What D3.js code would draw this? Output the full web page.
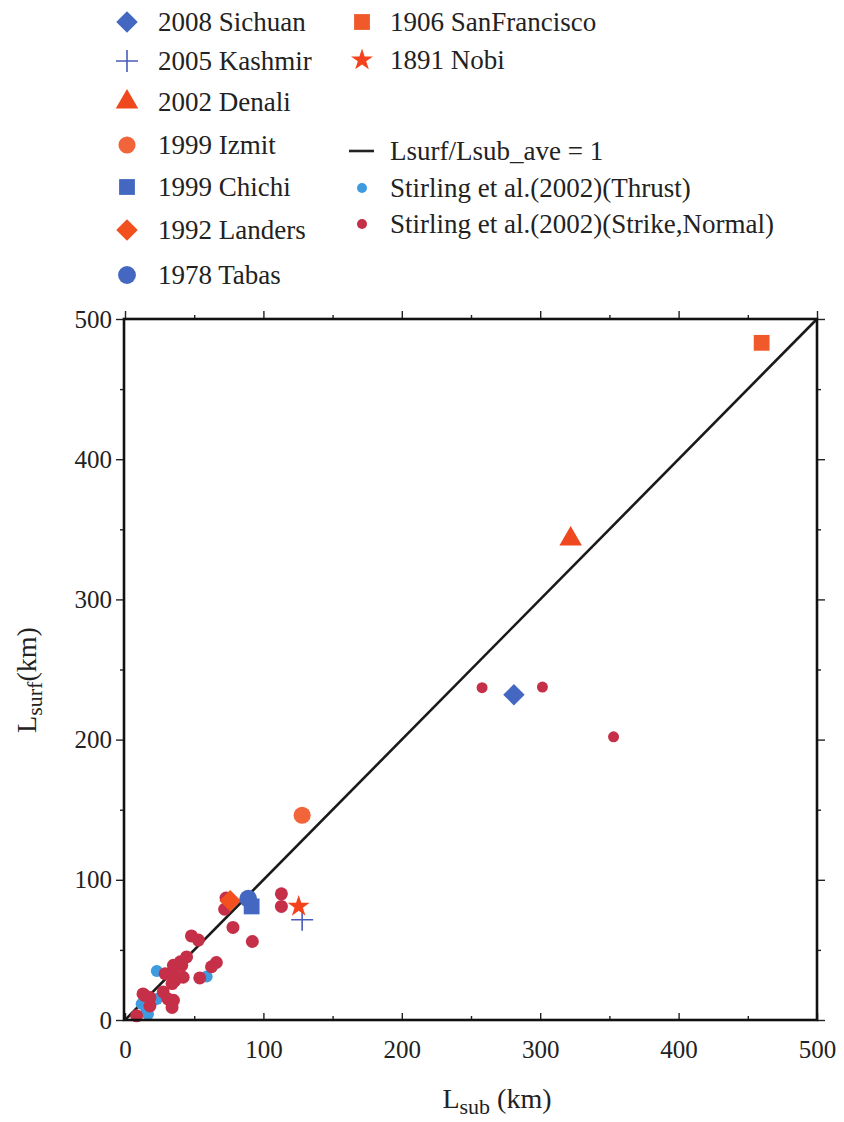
<!DOCTYPE html>
<html>
<head>
<meta charset="utf-8">
<script src="https://cdn.jsdelivr.net/npm/d3@7"></script>
<style>
  body { margin: 0; background: #fff; font-family: "Liberation Serif", serif; }
  svg, svg text, svg tspan { font-family: "Liberation Serif", serif !important; }
</style>
</head>
<body>
<div id="chart"></div>
<script>
// Lsurf vs Lsub scatter

var ticks = [0, 100, 200, 300, 400, 500];
var minorTicks = [50, 150, 250, 350, 450];

// named earthquakes: [Lsub, Lsurf]
var eventNames = ["2008 Sichuan", "2005 Kashmir", "2002 Denali", "1999 Izmit", "1999 Chichi",
                  "1992 Landers", "1978 Tabas", "1906 SanFrancisco", "1891 Nobi"];
var eventLsub  = [281, 128, 322, 128, 91.5, 76, 89, 460, 125.5];
var eventLsurf = [232, 71.5, 343, 146, 81, 85, 86.5, 483, 81];

// Stirling et al. (2002) thrust
var thrustLsub  = [59, 23, 23, 12, 15.6, 16.6];
var thrustLsurf = [31, 35, 15, 11.5, 6.7, 4.3];

// Stirling et al. (2002) strike-slip, normal
var strikeLsub  = [258, 301.6, 353, 113, 113, 78, 92, 72, 73, 48, 53, 44.5, 41, 66, 62.5, 54,
                   29, 34, 36, 42, 35, 40, 34, 13, 18, 14.4, 27.6, 31, 35, 34, 18, 8.4, 37];
var strikeLsurf = [237, 237.5, 202, 90, 81, 66, 56, 79, 87, 60, 57, 45, 39, 41, 38, 30,
                   33, 34, 28, 30.5, 39, 41.5, 26, 18.6, 16, 17.4, 20, 15, 14, 9, 10, 3, 31];

var lineLsub = [0, 500];

var fontSerif = "Liberation Serif";
var colBlue = "#4468c2", colRed = "#f0481e", colOrange = "#f2643a";
var colThrust = "#3f9be0", colStrike = "#c53048";

var W = 844, H = 1122;
var svg = d3.select("#chart").append("svg")
    .attr("width", W).attr("height", H);

var x = d3.scaleLinear().domain([0, 500]).range([125, 817]);
var y = d3.scaleLinear().domain([0, 500]).range([1020, 319]);

// symbol for each event
var eventShapes = [
  {type: d3.symbolSquare, size: 230, rot: 45, fill: colBlue},
  {type: "plus", size: 11, fill: "#4a5cb8"},
  {type: d3.symbolTriangle, size: 220, rot: 0, fill: colRed},
  {type: d3.symbolCircle, size: 230, rot: 0, fill: colOrange},
  {type: d3.symbolSquare, size: 250, rot: 0, fill: colBlue},
  {type: d3.symbolSquare, size: 230, rot: 45, fill: "#f2501e"},
  {type: d3.symbolCircle, size: 250, rot: 0, fill: colBlue},
  {type: d3.symbolSquare, size: 250, rot: 0, fill: "#f05a2a"},
  {type: d3.symbolStar, size: 150, rot: 0, fill: "#f5421e"}
];

function drawShape(g, s, cx, cy) {
  if (s.type === "plus") {
    g.append("path")
      .attr("d", "M" + (cx - s.size) + "," + cy + "H" + (cx + s.size) +
                 "M" + cx + "," + (cy - s.size) + "V" + (cy + s.size))
      .attr("stroke", s.fill).attr("stroke-width", 1.6).attr("fill", "none");
  } else {
    g.append("path")
      .attr("d", d3.symbol().type(s.type).size(s.size)())
      .attr("transform", "translate(" + cx + "," + cy + ") rotate(" + s.rot + ")")
      .attr("fill", s.fill);
  }
}

// ---- plot ----
var plot = svg.append("g");

// 1:1 line
plot.append("path")
  .datum(lineLsub)
  .attr("d", d3.line().x(function(d) { return x(d); }).y(function(d) { return y(d); }))
  .attr("stroke", "#1a1a1a").attr("stroke-width", 2.6).attr("fill", "none");

thrustLsub.forEach(function(v, i) {
  plot.append("circle").attr("cx", x(v)).attr("cy", y(thrustLsurf[i]))
    .attr("r", 6).attr("fill", colThrust);
});
strikeLsub.forEach(function(v, i) {
  plot.append("circle").attr("cx", x(v)).attr("cy", y(strikeLsurf[i]))
    .attr("r", v > 200 ? 5.5 : 6.5).attr("fill", colStrike);
});

eventLsub.forEach(function(v, i) {
  drawShape(plot, eventShapes[i], x(v), y(eventLsurf[i]));
});

// ---- axes / frame ----
function cleanLabels(g) {
  g.select(".domain").remove();
  g.attr("font-family", fontSerif);
  g.selectAll("text").style("font-family", fontSerif).attr("font-size", 25).attr("fill", "#222");
}
var ax = svg.append("g");
ax.append("g").attr("transform", "translate(0,1020)")
  .call(d3.axisBottom(x).tickValues(ticks).tickSize(0).tickPadding(20).tickFormat(d3.format("d")))
  .call(cleanLabels);
ax.append("g").attr("transform", "translate(124,0)")
  .call(d3.axisLeft(y).tickValues(ticks).tickSize(0).tickPadding(12).tickFormat(d3.format("d")))
  .call(cleanLabels);

// tick marks: left/top/right outward, bottom inward
function noDomain(g) { g.select(".domain").remove(); }
ax.append("g").attr("transform", "translate(124,0)")
  .call(d3.axisLeft(y).tickValues(ticks).tickSize(8).tickFormat("")).call(noDomain);
ax.append("g").attr("transform", "translate(124,0)")
  .call(d3.axisLeft(y).tickValues(minorTicks).tickSize(4).tickFormat("")).call(noDomain);
ax.append("g").attr("transform", "translate(0,319)")
  .call(d3.axisTop(x).tickValues(ticks).tickSize(8).tickFormat("")).call(noDomain);
ax.append("g").attr("transform", "translate(0,319)")
  .call(d3.axisTop(x).tickValues(minorTicks).tickSize(4).tickFormat("")).call(noDomain);
ax.append("g").attr("transform", "translate(817,0)")
  .call(d3.axisRight(y).tickValues(ticks).tickSize(8).tickFormat("")).call(noDomain);
ax.append("g").attr("transform", "translate(817,0)")
  .call(d3.axisRight(y).tickValues(minorTicks).tickSize(4).tickFormat("")).call(noDomain);
ax.append("g").attr("transform", "translate(0,1020)")
  .call(d3.axisTop(x).tickValues(ticks).tickSize(7).tickFormat("")).call(noDomain);
ax.append("g").attr("transform", "translate(0,1020)")
  .call(d3.axisTop(x).tickValues(minorTicks).tickSize(4).tickFormat("")).call(noDomain);
ax.selectAll(".tick line").attr("stroke", "#222").attr("stroke-width", 1.4);

ax.append("rect")
  .attr("x", 124).attr("y", 319).attr("width", 693).attr("height", 701)
  .attr("fill", "none").attr("stroke", "#111").attr("stroke-width", 2.6);

// axis titles
var xt = svg.append("text").attr("x", 497).attr("y", 1108)
  .style("font-family", fontSerif)
  .attr("text-anchor", "middle").attr("font-size", 28).attr("fill", "#222");
xt.append("tspan").text("L");
xt.append("tspan").text("sub").attr("font-size", 22).attr("dy", 6);
xt.append("tspan").text(" (km)").attr("dy", -6);

var yt = svg.append("text").attr("transform", "translate(36,680) rotate(-90)")
  .style("font-family", fontSerif)
  .attr("text-anchor", "middle").attr("font-size", 28).attr("fill", "#222");
yt.append("tspan").text("L");
yt.append("tspan").text("surf").attr("font-size", 22).attr("dy", 6);
yt.append("tspan").text("(km)").attr("dy", -6);

// ---- legend ----
var leg = svg.append("g");
var leftRows = [22, 61, 102, 145, 187, 230, 275];
var rightRows = [22, 60];
eventNames.forEach(function(name, i) {
  var sx, cy, tx;
  if (i < 7) { sx = 127; cy = leftRows[i]; tx = 158; }
  else { sx = 362; cy = rightRows[i - 7]; tx = 390; }
  drawShape(leg, eventShapes[i], sx, cy);
  leg.append("text").attr("x", tx).attr("y", cy + 9)
    .style("font-family", fontSerif).attr("font-size", 27).attr("fill", "#222").text(name);
});

leg.append("line").attr("x1", 349).attr("x2", 374).attr("y1", 151).attr("y2", 151)
  .attr("stroke", "#222").attr("stroke-width", 2.6);
var rightTexts = [
  {t: "Lsurf/Lsub_ave = 1", y: 160},
  {t: "Stirling et al.(2002)(Thrust)", y: 197},
  {t: "Stirling et al.(2002)(Strike,Normal)", y: 233}
];
rightTexts.forEach(function(r) {
  leg.append("text").attr("x", 390).attr("y", r.y)
    .style("font-family", fontSerif).attr("font-size", 27).attr("fill", "#222").text(r.t);
});
leg.append("circle").attr("cx", 362).attr("cy", 188).attr("r", 5).attr("fill", colThrust);
leg.append("circle").attr("cx", 362).attr("cy", 224).attr("r", 5).attr("fill", colStrike);
</script>
</body>
</html>
